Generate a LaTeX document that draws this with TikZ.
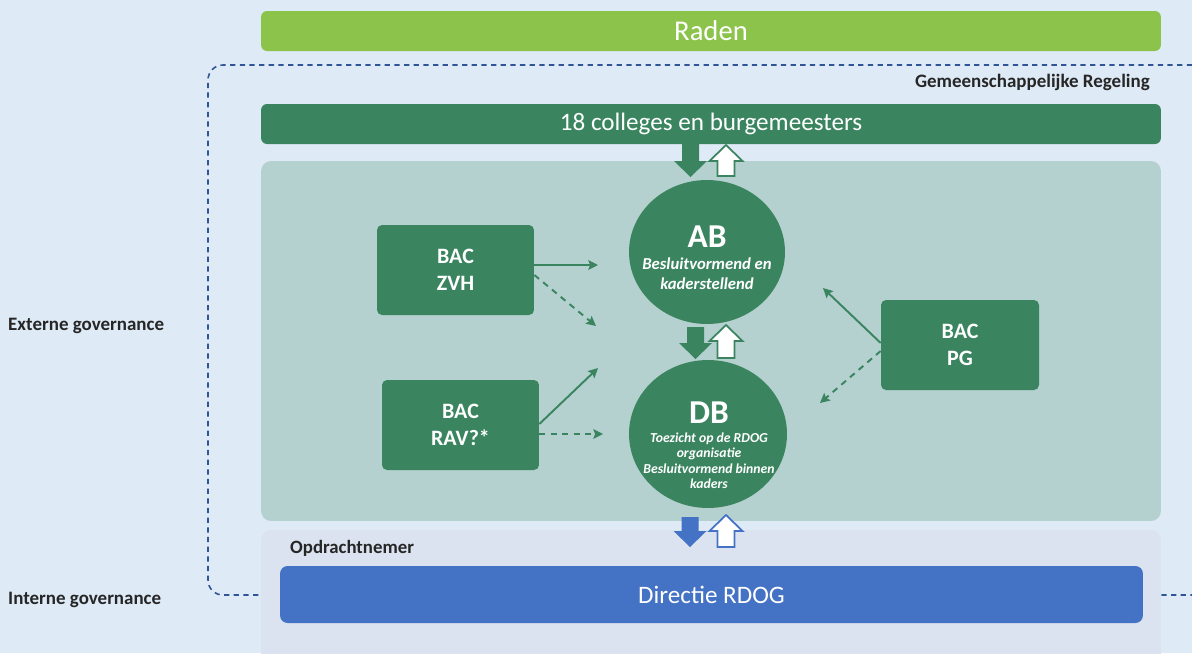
\documentclass[tikz,border=0pt]{standalone}
\usepackage{fontspec}
\setmainfont{Carlito}
\usetikzlibrary{shapes.geometric,arrows.meta,calc}

\newcommand{\blokneer}[4]{%
  \fill[#1] ({#2-8.5},#3) -- ({#2+8.5},#3) -- ({#2+8.5},{#4-16}) -- ({#2+16.5},{#4-16})
    -- (#2,#4) -- ({#2-16.5},{#4-16}) -- ({#2-8.5},{#4-16}) -- cycle;}
\newcommand{\blokop}[4]{%
  \filldraw[fill=white, draw=#1, line width=1pt] ({#2-8.5},#3) -- ({#2+8.5},#3) -- ({#2+8.5},{#4+16})
    -- ({#2+16.5},{#4+16}) -- (#2,#4) -- ({#2-16.5},{#4+16}) -- ({#2-8.5},{#4+16}) -- cycle;}

\begin{document}
\begin{tikzpicture}[x=0.02cm, y=-0.02cm,
    balk/.style={rounded corners=0.12cm, minimum width=18cm, minimum height=0.8cm,
      text=white, font=\fontsize{14.3}{16}\selectfont},
    bac/.style={fill=groen, rounded corners=0.1cm, minimum width=3.14cm, minimum height=1.8cm,
      text=white, align=center, font=\fontsize{12.5}{15.5}\selectfont\bfseries},
    kring/.style={ellipse, fill=groen, inner sep=0pt},
    kringtekst/.style={text=white, align=center, inner sep=0pt},
    label/.style={text=donker, font=\fontsize{10.8}{12}\selectfont\bfseries},
    pijl/.style={groen, line width=1.1pt, -{Stealth[length=5.5pt, width=5.5pt, inset=1pt]}},
    stippel/.style={pijl, dash pattern=on 3.5pt off 3pt}]
   \definecolor{achtergrond}{HTML}{DEEAF6}
   \definecolor{opdracht}{HTML}{DAE3EF}
   \definecolor{paneelkleur}{HTML}{B4D0CF}
   \definecolor{groen}{HTML}{3A855F}
   \definecolor{lichtgroen}{HTML}{8CC34A}
   \definecolor{blauw}{HTML}{4472C4}
   \definecolor{streep}{HTML}{2F5597}
   \definecolor{donker}{HTML}{262626}

   \fill[achtergrond] (0,0) rectangle (1192,653);
   \useasboundingbox (0,0) rectangle (1192,653);

   \draw[streep, line width=0.9pt, dash pattern=on 3pt off 2.5pt, rounded corners=0.3cm]
     (1250,65) -- (208,65) -- (208,595) -- (1250,595);

   \node [balk, fill=lichtgroen, font=\fontsize{16.3}{18}\selectfont] (raden) at (711,31) {Raden};
   \node [label, anchor=east] (gr) at (1156,82) {Gemeenschappelijke Regeling};
   \node [balk, fill=groen] (colleges) at (711,124) {18 colleges en burgemeesters};

   \node [fill=paneelkleur, rounded corners=0.2cm, minimum width=18cm, minimum height=7.2cm]
     (paneel) at (711,341) {};
   \fill[opdracht, rounded corners=0.2cm] (261,530) rectangle (1161,700);
   \node [label, anchor=west, font=\fontsize{10.7}{12}\selectfont\bfseries] (opdr) at (284,548) {Opdrachtnemer};
   \node [fill=blauw, rounded corners=0.15cm, minimum width=17.26cm, minimum height=1.14cm,
     text=white, font=\fontsize{14.3}{16}\selectfont] (directie) at (711.5,594.5) {Directie RDOG};

   \node [label, anchor=west] (extern) at (2,326) {Externe governance};
   \node [label, anchor=west] (intern) at (2,600) {Interne governance};

   \node [kring, minimum width=3.12cm, minimum height=2.88cm] (ab) at (707,252) {};
   \node [kringtekst, font=\fontsize{9.5}{11.5}\selectfont\bfseries\itshape] (abtekst) at (707,258)
     {{\fontsize{19}{22}\selectfont\upshape AB}\\[1pt]Besluitvormend en\\kaderstellend};
   \node [kring, minimum width=3.16cm, minimum height=2.96cm] (db) at (708,434) {};
   \node [kringtekst, font=\fontsize{7.8}{8.6}\selectfont\bfseries\itshape] (dbtekst) at (709,445)
     {{\fontsize{19}{22}\selectfont\upshape DB}\\[2.5pt]Toezicht op de RDOG\\organisatie\\Besluitvormend binnen\\kaders};

   \node [bac] (zvh) at (455.5,270) {BAC\\ZVH};
   \node [bac] (rav) at (460.5,425) {BAC\\RAV?*};
   \node [bac, minimum width=3.16cm] (pg) at (960,345) {BAC\\PG};

   \coordinate (zvh1) at (598,265);
   \coordinate (zvh2) at (596,326);
   \coordinate (rav1) at (598,368);
   \coordinate (rav2) at (603,434);
   \coordinate (pg1) at (823,288);
   \coordinate (pg2) at (820,403);

   \draw[pijl] ($(zvh.east)+(0,-5)$) -- (zvh1);
   \draw[stippel] ($(zvh.east)+(0,5)$) -- (zvh2);
   \draw[pijl] ($(rav.east)+(0,-1)$) -- (rav1);
   \draw[stippel] ($(rav.east)+(0,9)$) -- (rav2);
   \draw[pijl] ($(pg.west)+(0,-2)$) -- (pg1);
   \draw[stippel] ($(pg.west)+(0,6)$) -- (pg2);

   \blokneer{groen}{690.5}{144}{177}
   \blokop{groen}{726}{176}{145}
   \blokneer{groen}{695.5}{327}{359}
   \blokop{groen}{726}{358}{325}
   \blokneer{blauw}{690}{517}{547}
   \blokop{blauw}{726}{547}{515}
\end{tikzpicture}
\end{document}
